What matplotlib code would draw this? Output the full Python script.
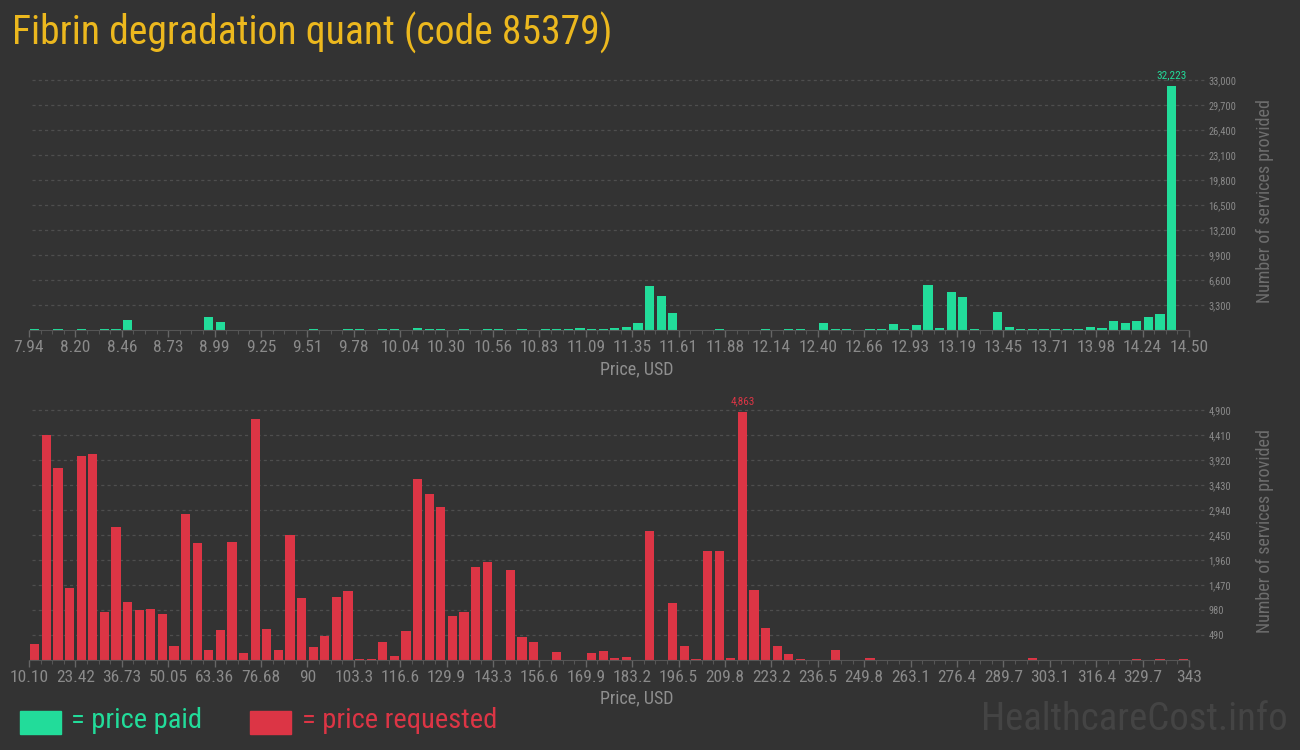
import matplotlib as mpl
mpl.use('Agg')
import matplotlib.pyplot as plt
from matplotlib.patches import Rectangle
import numpy as np

# ---- data ----
title = 'Fibrin degradation quant (code 85379)'

paid_lo, paid_hi = 7.94, 14.50
paid_ticks = ['7.94', '8.20', '8.46', '8.73', '8.99', '9.25', '9.51', '9.78', '10.04',
              '10.30', '10.56', '10.83', '11.09', '11.35', '11.61', '11.88', '12.14',
              '12.40', '12.66', '12.93', '13.19', '13.45', '13.71', '13.98', '14.24', '14.50']
paid_counts = [120, 0, 120, 0, 120, 0, 120, 180, 1360, 0,
               0, 0, 0, 0, 0, 1760, 1100, 0, 0, 0,
               0, 0, 0, 0, 120, 0, 0, 120, 120, 0,
               180, 120, 0, 300, 180, 120, 0, 120, 0, 120,
               120, 0, 120, 0, 120, 120, 120, 300, 180, 120,
               300, 440, 880, 5760, 4530, 2200, 0, 0, 0, 120,
               0, 0, 0, 120, 0, 120, 120, 0, 970, 120,
               120, 0, 120, 120, 840, 120, 700, 5990, 220, 5060,
               4400, 120, 0, 2420, 440, 120, 120, 120, 120, 180,
               120, 350, 220, 1230, 970, 1230, 1670, 2160, 32223, 0]
paid_yticks = [3300, 6600, 9900, 13200, 16500, 19800, 23100, 26400, 29700, 33000]

req_lo, req_hi = 10.10, 343
req_ticks = ['10.10', '23.42', '36.73', '50.05', '63.36', '76.68', '90', '103.3', '116.6',
             '129.9', '143.3', '156.6', '169.9', '183.2', '196.5', '209.8', '223.2',
             '236.5', '249.8', '263.1', '276.4', '289.7', '303.1', '316.4', '329.7', '343']
req_counts = [320, 4416, 3770, 1418, 4005, 4044, 947, 2613, 1143, 986,
              1006, 908, 281, 2868, 2300, 203, 595, 2320, 144, 4730,
              614, 203, 2457, 1222, 261, 477, 1241, 1359, 26, 26,
              359, 85, 575, 3554, 3260, 3005, 869, 947, 1829, 1927,
              0, 1770, 457, 359, 0, 163, 0, 0, 144, 183,
              46, 65, 0, 2535, 0, 1124, 281, 26, 2143, 2143,
              46, 4863, 1379, 634, 281, 124, 26, 0, 0, 203,
              0, 0, 46, 0, 0, 0, 0, 0, 0, 0,
              0, 0, 0, 0, 0, 0, 46, 0, 0, 0,
              0, 0, 0, 0, 0, 26, 0, 10, 0, 10]
req_yticks = [490, 980, 1470, 1960, 2450, 2940, 3430, 3920, 4410, 4900]

BG = '#333333'
GREEN = '#22dc9a'
RED = '#dc3545'
GOLD = '#ecb81e'
TICK = '#8a8a8a'
LABEL = '#8f8f8f'

MAIN = ['Roboto Condensed', 'Roboto', 'DejaVu Sans']
NARROW = ['Roboto Condensed', 'Liberation Sans Narrow', 'DejaVu Sans']

W, H = 1300, 750
fig = plt.figure(figsize=(13, 7.5), dpi=100, facecolor=BG)


def histo(rect, lo, hi, counts, labels, yticks, color):
    ax = fig.add_axes(rect)
    ax.set_facecolor(BG)
    n = len(counts)
    step = (hi - lo) / n
    centers = lo + step * (np.arange(n) + 0.5)
    ax.bar(centers, counts, width=step * 0.78, color=color, zorder=3)
    ax.set_xlim(lo, hi)
    ax.set_ylim(0, yticks[-1])

    for s in ['top', 'left', 'right']:
        ax.spines[s].set_visible(False)
    ax.spines['bottom'].set_color('#555555')
    ax.spines['bottom'].set_zorder(4)

    ax.set_xticks(np.linspace(lo, hi, len(labels)))
    ax.set_xticklabels(labels, family=NARROW, fontstretch='condensed')
    ax.set_xticks(np.linspace(lo, hi, n + 1), minor=True)
    ax.tick_params(axis='x', which='major', length=5, width=1, color='#666666',
                   labelcolor=TICK, labelsize=12.5, pad=2)
    ax.tick_params(axis='x', which='minor', length=3, width=0.8, color='#555555')

    ax.yaxis.tick_right()
    ax.set_yticks(yticks)
    ax.set_yticklabels(['{:,}'.format(v) for v in yticks], family=NARROW,
                       fontstretch='condensed')
    ax.tick_params(axis='y', length=0, labelcolor=TICK, labelsize=7.5, pad=14)
    ax.hlines(yticks, 0.003, 1.014, transform=ax.get_yaxis_transform(),
              colors='#4e4e4e', linestyles=(0, (2.5, 2.5)), linewidth=0.9,
              clip_on=False, zorder=1)

    i = int(np.argmax(counts))
    ax.annotate('{:,}'.format(counts[i]), (centers[i], counts[i]), xytext=(0, 4),
                textcoords='offset points', ha='center', va='bottom', color=color,
                fontsize=8, family=NARROW, fontstretch='condensed',
                annotation_clip=False)
    return ax


ax1 = histo([29 / W, 1 - 330 / H, 1160 / W, 250 / H], paid_lo, paid_hi,
            paid_counts, paid_ticks, paid_yticks, GREEN)
ax2 = histo([29 / W, 1 - 660 / H, 1160 / W, 250 / H], req_lo, req_hi,
            req_counts, req_ticks, req_yticks, RED)

fig.text(12 / W, 1 - 33 / H, title, color=GOLD, fontsize=28.5, family=MAIN,
         fontstretch='condensed', ha='left', va='center')

for y in (369, 698):
    fig.text(637 / W, 1 - y / H, 'Price, USD', color=LABEL, fontsize=13, family=MAIN,
             ha='center', va='center')
for y in (201, 531):
    fig.text(1265 / W, 1 - y / H, 'Number of services provided', color='#6e6e6e',
             fontsize=13, family=MAIN, rotation=90, ha='center', va='center')

# legend
fig.patches.append(Rectangle((20 / W, 1 - 734 / H), 41 / W, 23 / H, color=GREEN,
                             transform=fig.transFigure))
fig.text(71 / W, 1 - 721 / H, '= price paid', color=GREEN, fontsize=20.5, family=MAIN,
         ha='left', va='center')
fig.patches.append(Rectangle((250 / W, 1 - 734 / H), 41 / W, 23 / H, color=RED,
                             transform=fig.transFigure))
fig.text(302 / W, 1 - 721 / H, '= price requested', color=RED, fontsize=20.5,
         family=MAIN, ha='left', va='center')

fig.text(1288 / W, 1 - 719 / H, 'HealthcareCost.info', color='#444444', fontsize=28,
         family=MAIN, ha='right', va='center')

fig.savefig('out.png', dpi=100, facecolor=BG)
